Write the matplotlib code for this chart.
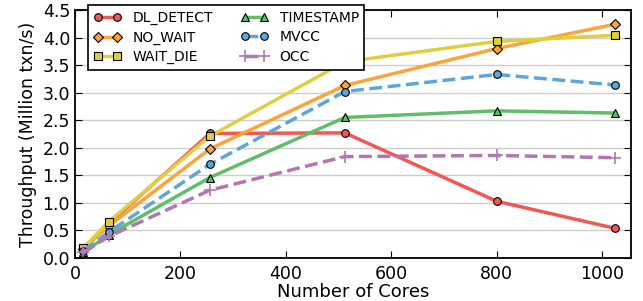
import numpy as np
import matplotlib
matplotlib.use('Agg')
import matplotlib.pyplot as plt

cores = [16, 64, 256, 512, 800, 1024]

dl_detect = [0.15, 0.62, 2.26, 2.27, 1.03, 0.54]
no_wait   = [0.17, 0.58, 1.98, 3.13, 3.80, 4.24]
wait_die  = [0.18, 0.66, 2.21, 3.56, 3.93, 4.04]
timestamp = [0.10, 0.42, 1.46, 2.55, 2.67, 2.63]
mvcc      = [0.13, 0.47, 1.70, 3.02, 3.33, 3.14]
occ       = [0.10, 0.39, 1.23, 1.84, 1.86, 1.82]

series = [
	('DL_DETECT', dl_detect, '#F15854', 'o', '-'),
	('NO_WAIT',   no_wait,   '#FAA43A', 'D', '-'),
	('WAIT_DIE',  wait_die,  '#DECF3F', 's', '-'),
	('TIMESTAMP', timestamp, '#60BD68', '^', '-'),
	('MVCC',      mvcc,      '#5DA5DA', 'o', '--'),
	('OCC',       occ,       '#B276B2', '+', '--'),
]

fig = plt.figure(figsize=(6.43, 3.01), dpi=100)
ax = fig.add_axes([0.1166, 0.1429, 0.8647, 0.8239])

for name, vals, color, marker, ls in series:
	if marker == '+':
		ax.plot(cores, vals, color=color, linestyle=ls, linewidth=2.5,
			marker=marker, markersize=9, markeredgewidth=1.2, label=name)
	else:
		ax.plot(cores, vals, color=color, linestyle=ls, linewidth=2.5,
			marker=marker, markersize=5.5, markeredgecolor='black',
			markeredgewidth=0.8, label=name)

ax.set_xlim(0, 1055)
ax.set_ylim(0, 4.5)
ax.set_yticks(np.arange(0, 4.51, 0.5))
ax.set_xticks([0, 200, 400, 600, 800, 1000])
ax.yaxis.grid(True, color='#cccccc', linewidth=1)
ax.set_axisbelow(True)
ax.tick_params(direction='in', top=True, right=True, length=5, labelsize=12.5)
ax.tick_params(axis='x', pad=5)
for s in ax.spines.values():
	s.set_linewidth(1.3)
ax.set_xlabel('Number of Cores', fontsize=13, labelpad=0)
ax.set_ylabel('Throughput (Million txn/s)', fontsize=12.5)

leg = ax.legend(ncol=2, loc='upper left', bbox_to_anchor=(0.126, 1.006),
	bbox_transform=fig.transFigure, fontsize=10, numpoints=2,
	handlelength=2.0, columnspacing=2.0, labelspacing=0.4,
	borderpad=0.4, fancybox=False, framealpha=1)
leg.get_frame().set_edgecolor('black')
leg.get_frame().set_linewidth(1.2)

fig.savefig('out.png', dpi=100)
